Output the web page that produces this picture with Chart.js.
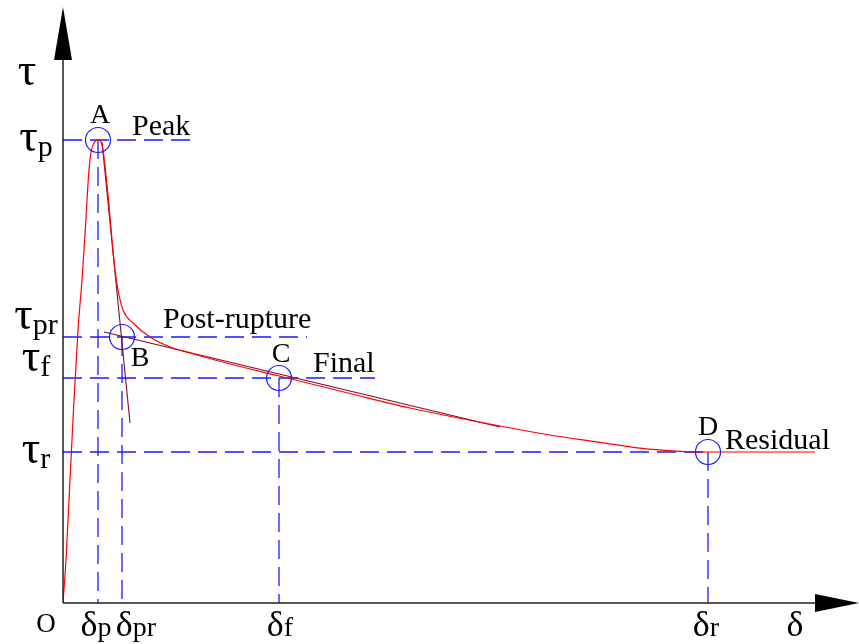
<!DOCTYPE html>
<html>
<head>
<meta charset="utf-8">
<script src="https://cdn.jsdelivr.net/npm/chart.js@4/dist/chart.umd.min.js"></script>
<style>
  html, body { margin: 0; padding: 0; background: #fff; }
  canvas { display: block; }
</style>
</head>
<body>
<canvas id="shear-curve" width="859" height="644"></canvas>
<script>
// shear stress (tau) vs displacement (delta), arbitrary units
const curveDelta = [0, 0.3, 0.7, 1.1, 1.5, 1.9, 2.2, 2.4, 2.6, 2.8, 3.1, 3.5, 3.8, 4.0, 4.3, 4.6, 4.9, 5.2, 5.5, 6.0, 7.0, 8.7, 10.7, 12.7, 16.7, 21.6, 28.7, 34.7, 43.7, 48.7, 53.7, 57.7, 61.7, 64.5, 75.2];
const curveTau = [0, 4.3, 12.3, 20.3, 27.3, 32.3, 36.8, 40.3, 43.3, 45.1, 46.0, 46.3, 46.1, 45.3, 42.8, 39.8, 36.3, 33.3, 31.3, 29.3, 28.0, 26.6, 25.6, 25.0, 23.9, 22.7, 20.95, 19.5, 17.7, 16.8, 16.07, 15.48, 15.17, 15.1, 15.1];

// tangent to the softening branch and to the post-rupture branch
const steepDelta = [3.9, 6.7];
const steepTau = [46.1, 18.0];
const slopeDelta = [4.1, 43.7];
const slopeTau = [27.1, 17.6];

// characteristic points A..D
const pointNames = ['A', 'B', 'C', 'D'];
const stageNames = ['Peak', 'Post-rupture', 'Final', 'Residual'];
const tickSubs = ['p', 'pr', 'f', 'r'];
const pointDelta = [3.5, 5.9, 21.6, 64.5];
const pointTau = [46.3, 26.6, 22.5, 15.1];
const guideEnd = [13.0, 24.4, 31.2, 64.5];   // where each tau guide stops

const deltaMax = 79.6;
const tauMax = 60.3;

const RED = '#ff0000';
const DARK = '#7a0f24';
const BLUE = '#1a1aff';
const SERIF = '"Liberation Serif", "Times New Roman", serif';

function pts(xs, ys) {
  return xs.map((v, i) => ({ x: v, y: ys[i] }));
}

const guides = [];
pointTau.forEach((t, i) => {
  guides.push({ data: [{ x: 0, y: t }, { x: guideEnd[i], y: t }] });
  guides.push({ data: [{ x: pointDelta[i], y: t }, { x: pointDelta[i], y: 0 }] });
});

const datasets = [
  { data: pts(curveDelta, curveTau), borderColor: RED, borderWidth: 1.2,
    cubicInterpolationMode: 'monotone', order: 1 },
  { data: pts(steepDelta, steepTau), borderColor: DARK, borderWidth: 1.1, order: 2 },
  { data: pts(slopeDelta, slopeTau), borderColor: DARK, borderWidth: 1.1, order: 2 },
  { data: pts(pointDelta, pointTau), showLine: false, pointRadius: 12.5,
    pointBorderColor: BLUE, pointBorderWidth: 1.2, pointBackgroundColor: 'rgba(0,0,0,0)', order: 0 }
].concat(guides.map(g => ({
  data: g.data, borderColor: BLUE, borderWidth: 1.3, borderDash: [19, 8], order: 3
})));

// symbol with a small suffix sitting a little lower, centred on cx
function drawSymbol(ctx, main, sub, cx, base, mainSize, subSize, drop) {
  ctx.font = mainSize + 'px ' + SERIF;
  const wm = ctx.measureText(main).width;
  ctx.font = subSize + 'px ' + SERIF;
  const ws = sub ? ctx.measureText(sub).width : 0;
  const left = cx - (wm + ws) / 2;
  ctx.textAlign = 'left';
  ctx.font = mainSize + 'px ' + SERIF;
  ctx.fillText(main, left, base);
  if (sub) {
    ctx.font = subSize + 'px ' + SERIF;
    ctx.fillText(sub, left + wm, base + drop);
  }
}

const decorations = {
  id: 'decorations',
  afterDatasetsDraw(chart) {
    const { ctx } = chart;
    const xs = chart.scales.x, ys = chart.scales.y;
    const X = v => xs.getPixelForValue(v);
    const Y = v => ys.getPixelForValue(v);
    const x0 = X(0), y0 = Y(0);
    const xTip = X(deltaMax), yTip = Y(59.6);

    ctx.save();
    ctx.strokeStyle = '#222';
    ctx.fillStyle = '#000';
    ctx.lineWidth = 1.5;
    ctx.beginPath();
    ctx.moveTo(x0, y0); ctx.lineTo(xTip - 40, y0);
    ctx.moveTo(x0, y0); ctx.lineTo(x0, yTip + 50);
    ctx.stroke();

    // arrow heads
    ctx.beginPath();
    ctx.moveTo(xTip, y0); ctx.lineTo(xTip - 44, y0 - 9); ctx.lineTo(xTip - 44, y0 + 9);
    ctx.closePath(); ctx.fill();
    ctx.beginPath();
    ctx.moveTo(x0, yTip); ctx.lineTo(x0 - 9, yTip + 53); ctx.lineTo(x0 + 9, yTip + 53);
    ctx.closePath(); ctx.fill();

    ctx.textBaseline = 'alphabetic';

    // axis titles and origin
    drawSymbol(ctx, 'τ', '', 27, 85, 46, 26, 0);
    drawSymbol(ctx, 'δ', '', X(73.2), 636, 36, 26, 0);
    drawSymbol(ctx, 'O', '', 46, 632, 27, 26, 0);

    // tau ticks on the left, delta ticks below
    const tauShift = [11, -8, -7, 11];
    const deltaNudge = [-2, 14, 1, -2];
    pointTau.forEach((t, i) => {
      drawSymbol(ctx, 'τ', tickSubs[i], 36, Y(t) + tauShift[i], 46, 30, 5);
      drawSymbol(ctx, 'δ', tickSubs[i], X(pointDelta[i]) + deltaNudge[i], 636, 36, 28, 0);
    });

    // point letters and stage names
    const letterOff = [[2, -17], [18, 29], [2, -16], [0, -17]];
    const stageOff = [[34, -5], [41, -9], [34, -6], [17, -3]];
    pointNames.forEach((n, i) => {
      const px = X(pointDelta[i]), py = Y(pointTau[i]);
      ctx.font = '28px ' + SERIF;
      ctx.textAlign = 'center';
      ctx.fillText(n, px + letterOff[i][0], py + letterOff[i][1]);
      ctx.font = '30px ' + SERIF;
      ctx.textAlign = 'left';
      ctx.fillText(stageNames[i], px + stageOff[i][0], py + stageOff[i][1]);
    });
    ctx.restore();
  }
};

new Chart(document.getElementById('shear-curve'), {
  type: 'line',
  data: { datasets: datasets },
  options: {
    responsive: false,
    animation: false,
    events: [],
    layout: { autoPadding: false, padding: { left: 63, right: 0, top: 0, bottom: 41 } },
    elements: { point: { radius: 0 }, line: { fill: false } },
    plugins: { legend: { display: false }, tooltip: { enabled: false } },
    scales: {
      x: { type: 'linear', min: 0, max: deltaMax, display: false },
      y: { type: 'linear', min: 0, max: tauMax, display: false }
    }
  },
  plugins: [decorations]
});
</script>
</body>
</html>
